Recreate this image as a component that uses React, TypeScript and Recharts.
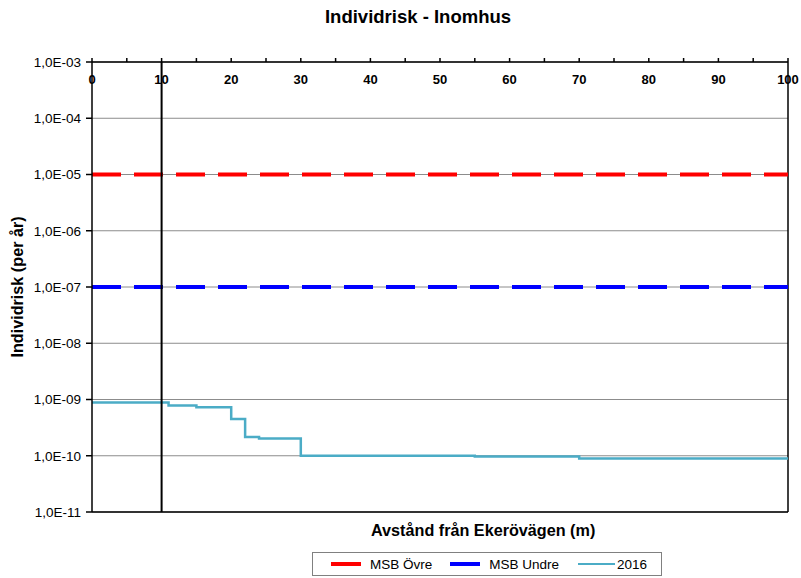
import { LineChart, Line, XAxis, YAxis, CartesianGrid, ReferenceLine } from 'recharts';

const font = 'Liberation Sans, Arial, sans-serif';

// distance (m) / individual risk (per year)
const xTicks = [0, 5, 10, 15, 20, 25, 30, 35, 40, 45, 50, 55, 60, 65, 70, 75, 80, 85, 90, 95, 100];
const yTicks = [1e-3, 1e-4, 1e-5, 1e-6, 1e-7, 1e-8, 1e-9, 1e-10, 1e-11];

const msbOvre = [
  { x: 0, y: 1e-5 },
  { x: 100, y: 1e-5 },
];
const msbUndre = [
  { x: 0, y: 1e-7 },
  { x: 100, y: 1e-7 },
];
const risk2016 = [
  { x: 0, y: 8.85e-10 },
  { x: 11, y: 7.8e-10 },
  { x: 15, y: 7.3e-10 },
  { x: 20, y: 4.5e-10 },
  { x: 22, y: 2.15e-10 },
  { x: 24, y: 2.03e-10 },
  { x: 30, y: 1.0e-10 },
  { x: 55, y: 9.7e-11 },
  { x: 70, y: 8.9e-11 },
  { x: 100, y: 8.9e-11 },
];

const legendItems = [
  { name: 'MSB Övre', color: '#ff0000', width: 4, len: 30, gap: 9 },
  { name: 'MSB Undre', color: '#0000ff', width: 4, len: 30, gap: 9 },
  { name: '2016', color: '#4bacc6', width: 2.5, len: 37, gap: 2 },
];

const formatExp = (v: number) => {
  const e = Math.round(Math.log10(v));
  return `1,0E${e < 0 ? '-' : '+'}${String(Math.abs(e)).padStart(2, '0')}`;
};

const TopTick = (props: any) => {
  const { x, y, payload } = props;
  if (payload.value % 10 !== 0) return null;
  return (
    <text x={x} y={y + 28} textAnchor="middle" fontFamily={font} fontSize={13} fontWeight="bold" fill="#000">
      {payload.value}
    </text>
  );
};

const LegendBox = () => (
  <div
    style={{
      position: 'absolute',
      left: 312,
      top: 552,
      width: 350,
      height: 24,
      border: '1px solid #808080',
      display: 'flex',
      alignItems: 'center',
      fontFamily: font,
      fontSize: 13.5,
      color: '#000',
      boxSizing: 'border-box',
    }}
  >
    {legendItems.map((it, i) => (
      <div key={it.name} style={{ display: 'flex', alignItems: 'center', marginLeft: i === 2 ? 19 : 18 }}>
        <div style={{ width: it.len, height: it.width, background: it.color, marginRight: it.gap }} />
        <span>{it.name}</span>
      </div>
    ))}
  </div>
);

export default function App() {
  return (
    <div style={{ position: 'absolute', left: 0, top: 0, width: 801, height: 578, background: '#fff' }}>
      <div
        style={{
          position: 'absolute',
          left: 0,
          width: 836,
          top: 6,
          textAlign: 'center',
          fontFamily: font,
          fontSize: 18.5,
          fontWeight: 'bold',
        }}
      >
        Individrisk - Inomhus
      </div>
      <div
        style={{
          position: 'absolute',
          left: 371,
          top: 521,
          fontFamily: font,
          fontSize: 16.2,
          fontWeight: 'bold',
          whiteSpace: 'nowrap',
        }}
      >
        Avstånd från Ekerövägen (m)
      </div>
      <LineChart width={801} height={578} margin={{ top: 52, right: 13, bottom: 66, left: 0 }}>
        <CartesianGrid vertical={false} stroke="#8c8c8c" strokeWidth={1} />
        <XAxis
          dataKey="x"
          type="number"
          orientation="top"
          domain={[0, 100]}
          ticks={xTicks}
          interval={0}
          height={10}
          tickSize={4}
          tickMargin={2}
          tick={<TopTick />}
          stroke="#000"
          strokeWidth={1.5}
          allowDuplicatedCategory={false}
        />
        <YAxis
          scale="log"
          type="number"
          domain={[1e-11, 1e-3]}
          ticks={yTicks}
          interval={0}
          allowDataOverflow
          width={92}
          tickSize={6}
          tickMargin={5}
          tickFormatter={formatExp}
          stroke="#000"
          strokeWidth={1.5}
          tick={{ fontFamily: font, fontSize: 13.5, fill: '#000' }}
          label={{
            content: (p: any) => {
              const vb = p.viewBox;
              const cx = 23;
              const cy = vb.y + vb.height / 2;
              return (
                <text
                  x={cx}
                  y={cy}
                  transform={`rotate(-90 ${cx} ${cy})`}
                  textAnchor="middle"
                  fontFamily={font}
                  fontSize={16.2}
                  fontWeight="bold"
                  fill="#000"
                >
                  Individrisk (per år)
                </text>
              );
            },
          }}
        />
        <ReferenceLine y={1e-11} stroke="#000" strokeWidth={1.5} />
        <ReferenceLine x={100} stroke="#000" strokeWidth={1.5} />
        <Line
          data={msbOvre}
          dataKey="y"
          name="MSB Övre"
          stroke="#ff0000"
          strokeWidth={4}
          strokeDasharray="29 13"
          dot={false}
          isAnimationActive={false}
        />
        <Line
          data={msbUndre}
          dataKey="y"
          name="MSB Undre"
          stroke="#0000ff"
          strokeWidth={4}
          strokeDasharray="29 13"
          dot={false}
          isAnimationActive={false}
        />
        <Line
          data={risk2016}
          dataKey="y"
          name="2016"
          type="stepAfter"
          stroke="#4bacc6"
          strokeWidth={2.5}
          dot={false}
          isAnimationActive={false}
        />
        <ReferenceLine x={10} stroke="#000" strokeWidth={2} />
      </LineChart>
      <LegendBox />
    </div>
  );
}
